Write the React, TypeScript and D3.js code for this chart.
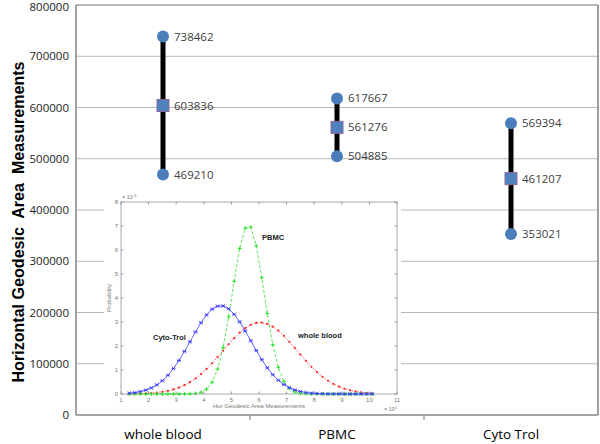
import React from "react";
import * as d3 from "d3";

const categories = ["whole blood", "PBMC", "Cyto Trol"];
const maxValues = [738462, 617667, 569394];
const meanValues = [603836, 561276, 461207];
const minValues = [469210, 504885, 353021];
const yTicks = [0, 100000, 200000, 300000, 400000, 500000, 600000, 700000, 800000];

// Inset: probability curves (x in 1e5, y in 1e-6)
const insetX = [
  1.3, 1.5, 1.7, 1.9, 2.1, 2.3, 2.5, 2.7, 2.9, 3.1, 3.3, 3.5, 3.7, 3.9, 4.1, 4.3, 4.5, 4.7, 4.9, 5.1, 5.3, 5.5, 5.7,
  5.9, 6.1, 6.3, 6.5, 6.7, 6.9, 7.1, 7.3, 7.5, 7.7, 7.9, 8.1, 8.3, 8.5, 8.7, 8.9, 9.1, 9.3, 9.5, 9.7, 9.9, 10.1,
];
const cytoTrolCurve = [
  0.035, 0.06, 0.1, 0.162, 0.252, 0.38, 0.553, 0.779, 1.061, 1.395, 1.773, 2.178, 2.587, 2.969, 3.294, 3.532, 3.661,
  3.667, 3.551, 3.323, 3.005, 2.627, 2.22, 1.813, 1.431, 1.091, 0.805, 0.574, 0.395, 0.263, 0.169, 0.105, 0.063,
  0.037, 0.021, 0.011, 0.006, 0.003, 0.001, 0, 0, 0, 0, 0, 0,
];
const pbmcCurve = [
  0, 0, 0, 0, 0, 0, 0, 0, 0, 0, 0.002, 0.007, 0.024, 0.075, 0.203, 0.488, 1.036, 1.942, 3.214, 4.698, 6.063, 6.909,
  6.952, 6.177, 4.846, 3.357, 2.054, 1.109, 0.529, 0.223, 0.083, 0.027, 0.008, 0.002, 0, 0, 0, 0, 0, 0, 0, 0, 0, 0, 0,
];
const wholeBloodCurve = [
  0.006, 0.01, 0.016, 0.025, 0.04, 0.061, 0.091, 0.133, 0.191, 0.268, 0.368, 0.494, 0.648, 0.832, 1.044, 1.281,
  1.538, 1.806, 2.073, 2.327, 2.556, 2.745, 2.883, 2.961, 2.974, 2.921, 2.807, 2.637, 2.423, 2.177, 1.913, 1.644,
  1.382, 1.136, 0.913, 0.718, 0.552, 0.415, 0.305, 0.219, 0.154, 0.106, 0.071, 0.047, 0.03,
];
const insetXTicks = [1, 2, 3, 4, 5, 6, 7, 8, 9, 10, 11];
const insetYTicks = [0, 1, 2, 3, 4, 5, 6, 7, 8];

const W = 600;
const H = 444;
const M = { left: 76, right: 598, top: 5, bottom: 415 };

export default function App() {
  const y = d3.scaleLinear().domain([0, 800000]).range([M.bottom, M.top]);
  const x = d3.scaleBand().domain(categories).range([M.left, M.right]).padding(0);

  const ix = d3.scaleLinear().domain([1, 11]).range([121, 397]);
  const iy = d3.scaleLinear().domain([0, 8]).range([394, 202]);

  const mk = (vals: number[]) =>
    d3
      .line<number>()
      .x((_, i) => ix(insetX[i]))
      .y((v) => iy(v))(vals) || "";

  const font = "'Open Sans', 'Liberation Sans', sans-serif";
  const ifont = "'Liberation Sans', Arial, sans-serif";

  return (
    <svg width={W} height={H} style={{ position: "absolute", left: 0, top: 0, background: "#fff" }}>
      {/* grid lines */}
      {yTicks.slice(1, -1).map((t) => (
        <line key={t} x1={M.left} x2={M.right} y1={y(t)} y2={y(t)} stroke="#b8b8b8" strokeWidth={1} />
      ))}
      {/* frame */}
      <line x1={M.left} x2={M.right} y1={y(800000)} y2={y(800000)} stroke="#a0a0a0" strokeWidth={1.5} />
      <line x1={M.right} x2={M.right} y1={M.top} y2={M.bottom} stroke="#808080" strokeWidth={1.5} />
      <line x1={M.left} x2={M.left} y1={M.top} y2={M.bottom} stroke="#868686" strokeWidth={1.5} />
      <line x1={M.left} x2={M.right} y1={M.bottom} y2={M.bottom} stroke="#868686" strokeWidth={1.5} />
      {categories.slice(1).map((c) => (
        <line key={c} x1={x(c)!} x2={x(c)!} y1={M.bottom} y2={M.bottom + 5} stroke="#868686" strokeWidth={1.2} />
      ))}
      {/* y tick labels */}
      {yTicks.map((t) => (
        <text
          key={t}
          x={69}
          y={Math.max(y(t), 7)}
          dy="0.35em"
          textAnchor="end"
          fontFamily={font}
          fontSize={11.5}
          fill="#222"
        >
          {t}
        </text>
      ))}
      {/* category labels */}
      {categories.map((c) => (
        <text
          key={c}
          x={x(c)! + x.bandwidth() / 2}
          y={439}
          textAnchor="middle"
          fontFamily={font}
          fontSize={13.5}
          fill="#000"
        >
          {c}
        </text>
      ))}
      {/* y axis title */}
      <text
        transform={`translate(24,222) rotate(-90)`}
        textAnchor="middle"
        fontFamily="'Liberation Sans Narrow', 'Liberation Sans', Arial, sans-serif"
        fontWeight="bold"
        fontSize={17}
        fill="#000"
        textLength={321}
        lengthAdjust="spacingAndGlyphs"
        xmlSpace="preserve"
      >
        {"Horizontal Geodesic  Area  Measurements"}
      </text>

      {/* range markers */}
      {categories.map((c, i) => {
        const cx = x(c)! + x.bandwidth() / 2;
        return (
          <g key={c}>
            <line x1={cx} x2={cx} y1={y(maxValues[i])} y2={y(minValues[i])} stroke="#000" strokeWidth={5} />
            <circle cx={cx} cy={y(maxValues[i])} r={6} fill="#4a7ebb" />
            <circle cx={cx} cy={y(minValues[i])} r={6} fill="#4a7ebb" />
            <rect
              x={cx - 6}
              y={y(meanValues[i]) - 6}
              width={12}
              height={12}
              fill="#4f81bd"
              stroke="#8e6a9e"
              strokeWidth={1}
            />
            {[maxValues[i], meanValues[i], minValues[i]].map((v, k) => (
              <text key={k} x={cx + 11} y={y(v)} dy="0.35em" fontFamily={font} fontSize={11.5} fill="#404040">
                {v}
              </text>
            ))}
          </g>
        );
      })}

      {/* inset */}
      <rect x={104} y={188} width={297} height={225} fill="#fff" />
      <g>
        <rect x={ix(1)} y={iy(8)} width={ix(11) - ix(1)} height={iy(0) - iy(8)} fill="none" stroke="#a8a8a8" strokeWidth={1} />
        {insetXTicks.map((t) => (
          <g key={t}>
            <line x1={ix(t)} x2={ix(t)} y1={iy(0)} y2={iy(0) - 2.5} stroke="#999" />
            <line x1={ix(t)} x2={ix(t)} y1={iy(8)} y2={iy(8) + 2.5} stroke="#999" />
            <text x={ix(t)} y={iy(0) + 8} textAnchor="middle" fontFamily={ifont} fontSize={6} fill="#777">
              {t}
            </text>
          </g>
        ))}
        {insetYTicks.map((t) => (
          <g key={t}>
            <line x1={ix(1)} x2={ix(1) + 2.5} y1={iy(t)} y2={iy(t)} stroke="#999" />
            <line x1={ix(11)} x2={ix(11) - 2.5} y1={iy(t)} y2={iy(t)} stroke="#999" />
            <text x={ix(1) - 3} y={iy(t)} dy="0.35em" textAnchor="end" fontFamily={ifont} fontSize={6} fill="#777">
              {t}
            </text>
          </g>
        ))}
        <text x={ix(1) + 1} y={iy(8) - 3} fontFamily={ifont} fontSize={5.5} fill="#777">
          × 10<tspan dy={-2.5} fontSize={4}>-6</tspan>
        </text>
        <text x={ix(11) - 13} y={iy(0) + 17} fontFamily={ifont} fontSize={5.5} fill="#777">
          × 10<tspan dy={-2.5} fontSize={4}>5</tspan>
        </text>
        <text x={(ix(1) + ix(11)) / 2} y={iy(0) + 14} textAnchor="middle" fontFamily={ifont} fontSize={6} fill="#777">
          Hor Geodesic Area Measurements
        </text>
        <text
          transform={`translate(111,${(iy(0) + iy(8)) / 2}) rotate(-90)`}
          textAnchor="middle"
          fontFamily={ifont}
          fontSize={6}
          fill="#777"
        >
          Probability
        </text>

        {/* curves */}
        <path d={mk(wholeBloodCurve)} fill="none" stroke="#ff3030" strokeWidth={0.8} strokeDasharray="1.5,1.5" />
        {wholeBloodCurve.map((v, i) => (
          <circle key={i} cx={ix(insetX[i])} cy={iy(v)} r={1.1} fill="#ff2020" />
        ))}
        <path d={mk(pbmcCurve)} fill="none" stroke="#30e030" strokeWidth={0.8} strokeDasharray="3,2" />
        {pbmcCurve.map((v, i) => (
          <path
            key={i}
            d={`M${ix(insetX[i]) - 2},${iy(v)}h4M${ix(insetX[i])},${iy(v) - 2}v4`}
            stroke="#20e020"
            strokeWidth={0.9}
          />
        ))}
        <path d={mk(cytoTrolCurve)} fill="none" stroke="#4040ff" strokeWidth={0.8} />
        {cytoTrolCurve.map((v, i) => (
          <path
            key={i}
            d={`M${ix(insetX[i]) - 1.8},${iy(v) - 1.8}l3.6,3.6M${ix(insetX[i]) - 1.8},${iy(v) + 1.8}l3.6,-3.6M${ix(insetX[i]) - 2},${iy(v)}h4`}
            stroke="#3535ff"
            strokeWidth={0.8}
          />
        ))}
        <text x={262} y={240} fontFamily={ifont} fontWeight="bold" fontSize={7.5} fill="#222">
          PBMC
        </text>
        <text x={153} y={340} fontFamily={ifont} fontWeight="bold" fontSize={7.5} fill="#222">
          Cyto-Trol
        </text>
        <text x={298} y={338} fontFamily={ifont} fontWeight="bold" fontSize={7.5} fill="#222">
          whole blood
        </text>
      </g>
    </svg>
  );
}
